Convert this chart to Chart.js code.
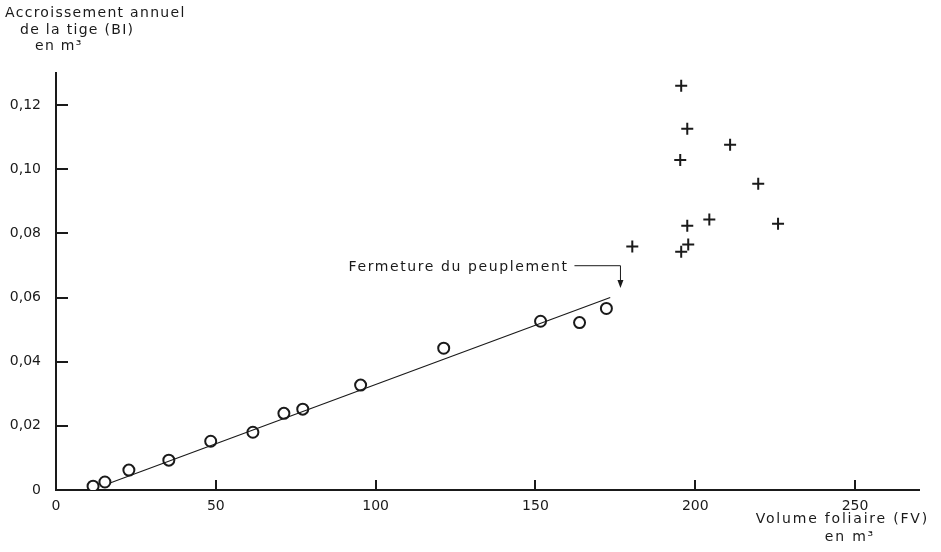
<!DOCTYPE html>
<html>
<head>
<meta charset="utf-8">
<script src="https://cdn.jsdelivr.net/npm/chart.js@4.4.1/dist/chart.umd.min.js"></script>
<style>
  html, body { margin: 0; padding: 0; background: #fff; }
  #wrap { width: 941px; height: 552px; position: relative; }
</style>
</head>
<body>
<div id="wrap"><canvas id="chart"></canvas></div>
<script>
// volume foliaire (m3) / accroissement annuel (m3) - before canopy closure
const fvOpen = [11.6, 15.3, 22.8, 35.3, 48.4, 61.6, 71.3, 77.2, 95.3, 121.3, 151.6, 163.8, 172.2];
const biOpen = [0.0012, 0.0025, 0.0062, 0.0093, 0.0152, 0.0180, 0.0239, 0.0252, 0.0327, 0.0442, 0.0526, 0.0522, 0.0566];
// after canopy closure
const fvClosed = [195.6, 197.5, 210.9, 195.3, 219.7, 204.4, 197.5, 225.9, 180.3, 197.8, 195.6];
const biClosed = [0.126, 0.1126, 0.1076, 0.1029, 0.0955, 0.0843, 0.0824, 0.0830, 0.0759, 0.0765, 0.0743];
// fitted line ends
const fitX = [16.9, 173.4];
const fitY = [0.0022, 0.0600];
// annotation anchor (x, text y, arrow tip y)
const noteX = 176.6;
const noteY = [0.0693, 0.0630];
const noteText = 'Fermeture du peuplement';
const xTicks = [0, 50, 100, 150, 200, 250];
const yTicks = [0, 0.02, 0.04, 0.06, 0.08, 0.10, 0.12];

const FONT = '"DejaVu Sans", sans-serif';
const INK = '#1a1a1a';

const pts = (xs, ys) => xs.map((x, i) => ({x: x, y: ys[i]}));

const decor = {
    id: 'decor',
    afterDraw(chart) {
        const ctx = chart.ctx;
        const area = chart.chartArea;
        const xs = chart.scales.x, ys = chart.scales.y;
        ctx.save();
        ctx.strokeStyle = INK;
        ctx.fillStyle = INK;
        ctx.lineWidth = 2;
        // inward tick marks
        for (const v of yTicks) {
            if (v === 0) continue;
            const py = Math.round(ys.getPixelForValue(v));
            ctx.beginPath(); ctx.moveTo(area.left, py); ctx.lineTo(area.left + 12, py); ctx.stroke();
        }
        for (const v of xTicks) {
            if (v === 0) continue;
            const px = Math.round(xs.getPixelForValue(v));
            ctx.beginPath(); ctx.moveTo(px, area.bottom); ctx.lineTo(px, area.bottom - 10); ctx.stroke();
        }
        // annotation
        const ax = xs.getPixelForValue(noteX);
        const ty = ys.getPixelForValue(noteY[0]);
        const tip = ys.getPixelForValue(noteY[1]);
        ctx.font = '14px ' + FONT;
        ctx.letterSpacing = '1.6px';
        ctx.textAlign = 'right';
        ctx.textBaseline = 'middle';
        ctx.fillText(noteText, ax - 52, ty);
        ctx.lineWidth = 1;
        ctx.beginPath();
        ctx.moveTo(ax - 46, ty - 2); ctx.lineTo(ax, ty - 2); ctx.lineTo(ax, tip - 6); ctx.stroke();
        ctx.beginPath();
        ctx.moveTo(ax - 3, tip - 8); ctx.lineTo(ax + 3, tip - 8); ctx.lineTo(ax, tip); ctx.closePath(); ctx.fill();
        // axis titles
        ctx.letterSpacing = '1.3px';
        ctx.textAlign = 'left';
        ctx.textBaseline = 'alphabetic';
        ctx.fillText('Accroissement annuel', 5, 17);
        ctx.fillText('de la tige (BI)', 20, 34);
        ctx.fillText('en m³', 35, 50);
        ctx.letterSpacing = '1.8px';
        ctx.textAlign = 'right';
        ctx.fillText('Volume foliaire (FV)', 929, 523);
        ctx.fillText('en m³', 875, 541);
        ctx.restore();
    }
};

new Chart(document.getElementById('chart'), {
    type: 'scatter',
    data: {
        datasets: [
            {label: 'fit', data: pts(fitX, fitY), showLine: true, borderColor: INK, borderWidth: 1.2,
             pointRadius: 0, fill: false},
            {label: 'open', data: pts(fvOpen, biOpen), pointStyle: 'circle', pointRadius: 5.5,
             backgroundColor: '#fff', borderColor: INK, borderWidth: 2},
            {label: 'closed', data: pts(fvClosed, biClosed), pointStyle: 'cross', pointRadius: 6,
             borderColor: INK, borderWidth: 2}
        ]
    },
    options: {
        responsive: true,
        maintainAspectRatio: false,
        animation: false,
        layout: {padding: {top: 73, right: 22, left: 0, bottom: 0}},
        plugins: {legend: {display: false}, tooltip: {enabled: false}},
        scales: {
            x: {
                type: 'linear', min: 0, max: 270,
                afterBuildTicks: s => { s.ticks = xTicks.map(v => ({value: v})); },
                afterFit: s => { s.height = 62; },
                grid: {display: false, drawTicks: false},
                border: {display: true, color: INK, width: 2},
                ticks: {color: INK, font: {family: 'DejaVu Sans', size: 14}, padding: 8, maxRotation: 0}
            },
            y: {
                type: 'linear', min: 0, max: 0.13,
                afterBuildTicks: s => { s.ticks = yTicks.map(v => ({value: v})); },
                afterFit: s => { s.width = 56; },
                grid: {display: false, drawTicks: false},
                border: {display: true, color: INK, width: 2},
                ticks: {color: INK, font: {family: 'DejaVu Sans', size: 14}, padding: 15,
                        callback: v => v === 0 ? '0' : v.toFixed(2).replace('.', ',')}
            }
        }
    },
    plugins: [decor]
});
</script>
</body>
</html>
